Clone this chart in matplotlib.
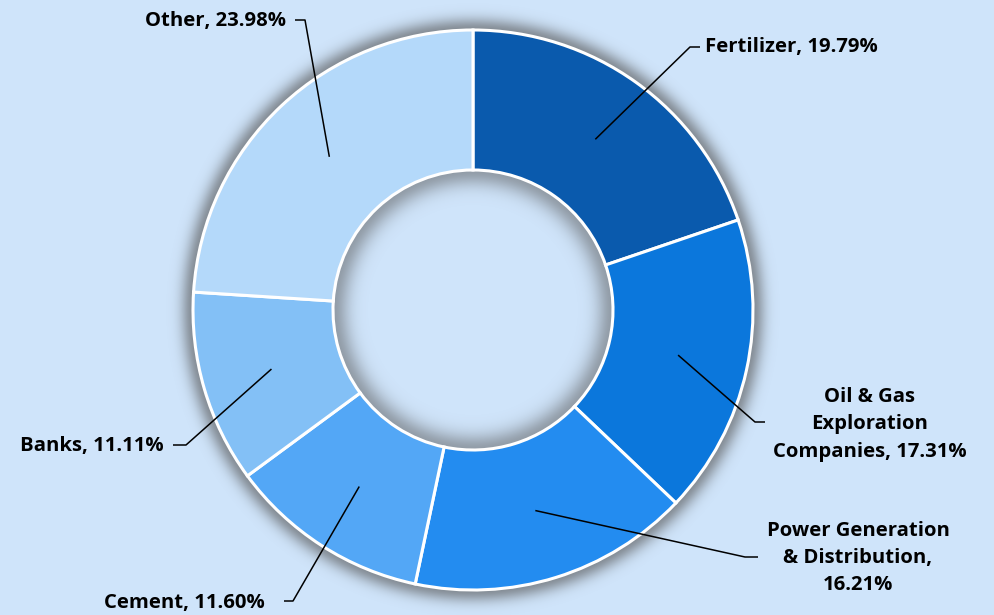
import matplotlib
matplotlib.use("Agg")
import matplotlib.pyplot as plt
import numpy as np

# ---------------------------------------------------------------------------
# Data
# ---------------------------------------------------------------------------
sectors = ["Fertilizer", "Oil & Gas\nExploration\nCompanies",
           "Power Generation\n& Distribution,", "Cement", "Banks", "Other"]
shares = [19.79, 17.31, 16.21, 11.60, 11.11, 23.98]
colors = ["#0A5AAD", "#0B77DC", "#238CF0", "#53A7F6", "#83C0F6", "#B4D9FA"]

BG = "#CFE4FA"
W, H = 994, 615
CX, CY = 473, 305          # centre in pixel coords (y up)
R_OUT, R_IN = 280, 140

plt.rcParams["font.family"] = ["Open Sans", "DejaVu Sans"]

fig = plt.figure(figsize=(W / 100, H / 100), dpi=100, facecolor=BG)
ax = fig.add_axes([0, 0, 1, 1])
ax.set_facecolor(BG)

wedges, _ = ax.pie(shares, colors=colors, startangle=90, counterclock=False,
                   radius=R_OUT, center=(CX, CY),
                   wedgeprops=dict(width=R_OUT - R_IN, edgecolor="white",
                                   linewidth=2.2))
for w in wedges:
    w.set_zorder(2)

# soft shadow round the ring and inside the hole
yy, xx = np.mgrid[0:H, 0:W]
d = np.hypot(xx + 0.5 - CX, yy + 0.5 - CY)
alpha = np.zeros_like(d)
outer = d > R_OUT
alpha[outer] = 0.6 * np.exp(-((d[outer] - R_OUT) / 12.0) ** 2)
inner = d < R_IN
alpha[inner] = 0.5 * np.exp(-((R_IN - d[inner]) / 16.0) ** 2)
shadow = np.zeros((H, W, 4))
shadow[..., :3] = 0.33
shadow[..., 3] = alpha
ax.imshow(shadow, extent=(0, W, 0, H), origin="lower", zorder=1,
          interpolation="bilinear")

# label text, text anchor, elbow point, horizontal tick end (pixel, y down)
labels = [
    ("Fertilizer, 19.79%", (705, 47), "left", (690, 47), (700, 47)),
    ("Oil & Gas\nExploration\nCompanies, 17.31%", (870, 424), "center", (755, 422), (765, 422)),
    ("Power Generation\n& Distribution,\n16.21%", (858, 558), "center", (745, 557), (758, 557)),
    ("Cement, 11.60%", (265, 603), "right", (293, 601), (284, 601)),
    ("Banks, 11.11%", (164, 446), "right", (186, 445), (173, 445)),
    ("Other, 23.98%", (286, 21), "right", (305, 20), (295, 20)),
]

r_mid = (R_OUT + R_IN) / 2
theta = 90 - np.cumsum([0] + shares[:-1]) * 3.6 - np.array(shares) * 1.8
for (txt, (tx, ty), ha, elbow, tick), th in zip(labels, theta):
    sx = CX + r_mid * np.cos(np.radians(th))
    sy = CY + r_mid * np.sin(np.radians(th))
    ax.plot([sx, elbow[0], tick[0]], [sy, H - elbow[1], H - tick[1]],
            color="black", lw=1.1, zorder=3, solid_capstyle="butt")
    ax.text(tx, H - ty, txt, ha=ha, va="center", fontsize=14.6,
            fontweight="bold", color="black", linespacing=1.5, zorder=4)

ax.set_xlim(0, W)
ax.set_ylim(0, H)
ax.set_aspect("equal")
ax.axis("off")

fig.savefig("out.png", dpi=100, facecolor=BG)
